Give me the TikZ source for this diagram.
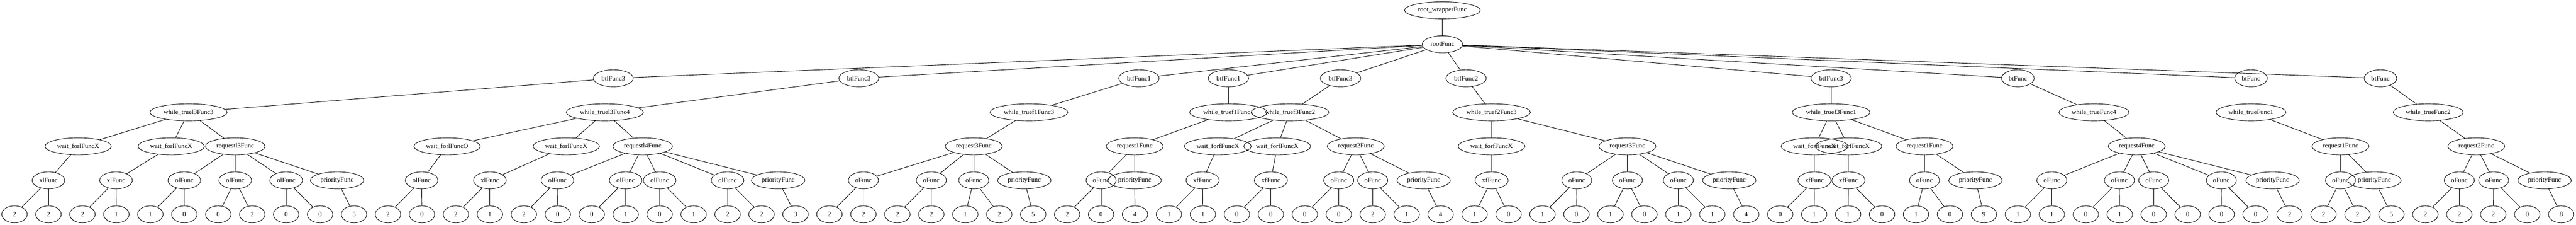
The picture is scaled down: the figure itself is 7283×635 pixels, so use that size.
\documentclass[tikz,border=0pt]{standalone}
\usepackage{fontspec}
\setmainfont{Liberation Serif}
\usepackage{tikz}
\usetikzlibrary{shapes.geometric}
\tikzstyle{fnode}=[draw,ellipse,line width=1pt,minimum width=54pt,minimum height=36pt,inner xsep=5pt,inner ysep=2pt,font=\fontsize{14}{16}\selectfont]
\tikzstyle{link}=[line width=1pt]

\begin{document}
\begin{tikzpicture}[x=0.75pt,y=0.75pt]
    \useasboundingbox (0,0) rectangle (7283,635);

    \node[fnode] (wrap) at (4078,606) {root\_wrapperFunc};
    \node[fnode] (root) at (4078,510) {rootFunc};

    \node[fnode] (b1) at (1734,414) {btlFunc3};
    \node[fnode] (b2) at (2428,414) {btlFunc3};
    \node[fnode] (b3) at (3220,414) {btfFunc1};
    \node[fnode] (b4) at (3473,414) {btfFunc1};
    \node[fnode] (b5) at (3790,414) {btfFunc3};
    \node[fnode] (b6) at (4145,414) {btfFunc2};
    \node[fnode] (b7) at (5177,414) {btfFunc3};
    \node[fnode] (b8) at (5705,414) {btFunc};
    \node[fnode] (b9) at (6364,414) {btFunc};
    \node[fnode] (b10) at (6730,414) {btFunc};

    \node[fnode] (w1) at (533,318) {while\_truel3Func3};
    \node[fnode] (w2) at (1710,318) {while\_truel3Func4};
    \node[fnode] (w3) at (2909,318) {while\_truef1Func3};
    \node[fnode] (w4) at (3473,318) {while\_truef1Func1};
    \node[fnode] (w5) at (3647,318) {while\_truef3Func2};
    \node[fnode] (w6) at (4217,318) {while\_truef2Func3};
    \node[fnode] (w7) at (5177,318) {while\_truef3Func1};
    \node[fnode] (w8) at (5920,318) {while\_trueFunc4};
    \node[fnode] (w9) at (6364,318) {while\_trueFunc1};
    \node[fnode] (w10) at (6865,318) {while\_trueFunc2};

    \node[fnode] (q1) at (221,222) {wait\_forlFuncX};
    \node[fnode] (q2) at (484,222) {wait\_forlFuncX};
    \node[fnode] (q3) at (665,222) {requestl3Func};
    \node[fnode] (q4) at (1264,222) {wait\_forlFuncO};
    \node[fnode] (q5) at (1601,222) {wait\_forlFuncX};
    \node[fnode] (q6) at (1817,222) {requestl4Func};
    \node[fnode] (q7) at (2753,222) {request3Func};
    \node[fnode] (q8) at (3208,222) {request1Func};
    \node[fnode] (q9) at (3443,222) {wait\_forfFuncX};
    \node[fnode] (q10) at (3611,222) {wait\_forfFuncX};
    \node[fnode] (q11) at (3833,222) {request2Func};
    \node[fnode] (q12) at (4217,222) {wait\_forfFuncX};
    \node[fnode] (q13) at (4601,222) {request3Func};
    \node[fnode] (q14) at (5130,222) {wait\_forfFuncX};
    \node[fnode] (q15) at (5226,222) {wait\_forfFuncX};
    \node[fnode] (q16) at (5441,222) {request1Func};
    \node[fnode] (q17) at (6041,222) {request4Func};
    \node[fnode] (q18) at (6617,222) {request1Func};
    \node[fnode] (q19) at (7001,222) {request2Func};

    \node[fnode] (f1) at (137,126) {xlFunc};
    \node[fnode] (f2) at (328,126) {xlFunc};
    \node[fnode] (f3) at (521,126) {olFunc};
    \node[fnode] (f4) at (665,126) {olFunc};
    \node[fnode] (f5) at (809,126) {olFunc};
    \node[fnode] (f6) at (953,126) {priorityFunc};
    \node[fnode] (f7) at (1192,126) {olFunc};
    \node[fnode] (f8) at (1385,126) {xlFunc};
    \node[fnode] (f9) at (1576,126) {olFunc};
    \node[fnode] (f10) at (1769,126) {olFunc};
    \node[fnode] (f11) at (1865,126) {olFunc};
    \node[fnode] (f12) at (2057,126) {olFunc};
    \node[fnode] (f13) at (2200,126) {priorityFunc};
    \node[fnode] (f14) at (2441,126) {oFunc};
    \node[fnode] (f15) at (2633,126) {oFunc};
    \node[fnode] (f16) at (2753,126) {oFunc};
    \node[fnode] (f17) at (2896,126) {priorityFunc};
    \node[fnode] (f18) at (3113,126) {oFunc};
    \node[fnode] (f19) at (3208,126) {priorityFunc};
    \node[fnode] (f20) at (3400,126) {xfFunc};
    \node[fnode] (f21) at (3593,126) {xfFunc};
    \node[fnode] (f22) at (3785,126) {oFunc};
    \node[fnode] (f23) at (3881,126) {oFunc};
    \node[fnode] (f24) at (4025,126) {priorityFunc};
    \node[fnode] (f25) at (4217,126) {xfFunc};
    \node[fnode] (f26) at (4458,126) {oFunc};
    \node[fnode] (f27) at (4601,126) {oFunc};
    \node[fnode] (f28) at (4745,126) {oFunc};
    \node[fnode] (f29) at (4889,126) {priorityFunc};
    \node[fnode] (f30) at (5130,126) {xfFunc};
    \node[fnode] (f31) at (5226,126) {xfFunc};
    \node[fnode] (f32) at (5441,126) {oFunc};
    \node[fnode] (f33) at (5585,126) {priorityFunc};
    \node[fnode] (f34) at (5801,126) {oFunc};
    \node[fnode] (f35) at (5992,126) {oFunc};
    \node[fnode] (f36) at (6089,126) {oFunc};
    \node[fnode] (f37) at (6280,126) {oFunc};
    \node[fnode] (f38) at (6425,126) {priorityFunc};
    \node[fnode] (f39) at (6617,126) {oFunc};
    \node[fnode] (f40) at (6713,126) {priorityFunc};
    \node[fnode] (f41) at (6953,126) {oFunc};
    \node[fnode] (f42) at (7050,126) {oFunc};
    \node[fnode] (f43) at (7194,126) {priorityFunc};

    % leaves, one every 96 units
    \foreach \v [count=\i from 0] in {2,2,2,1,1,0,0,2,0,0,5,
        2,0,2,1,2,0,0,1,0,1,2,2,3, 2,2,2,2,1,2,5,2,0,4,
        1,1,0,0,0,0,2,1,4,1,0, 1,0,1,0,1,1,4,0,1,1,0,
        1,0,9,1,1,0,1,0,0,0,0, 2,2,2,5,2,2,2,0,8}
        \node[fnode] (l\i) at ({41+96*\i},30) {\v};

    \foreach \a/\b in {wrap/root, root/b1, root/b2, root/b3, root/b4, root/b5,
        root/b6, root/b7, root/b8, root/b9, root/b10,
        b1/w1, b2/w2, b3/w3, b4/w4, b5/w5, b6/w6, b7/w7, b8/w8, b9/w9, b10/w10,
        w1/q1, w1/q2, w1/q3, w2/q4, w2/q5, w2/q6, w3/q7, w4/q8,
        w5/q9, w5/q10, w5/q11, w6/q12, w6/q13, w7/q14, w7/q15, w7/q16,
        w8/q17, w9/q18, w10/q19,
        q1/f1, q2/f2, q3/f3, q3/f4, q3/f5, q3/f6, q4/f7, q5/f8,
        q6/f9, q6/f10, q6/f11, q6/f12, q6/f13, q7/f14, q7/f15, q7/f16, q7/f17,
        q8/f18, q8/f19, q9/f20, q10/f21, q11/f22, q11/f23, q11/f24, q12/f25,
        q13/f26, q13/f27, q13/f28, q13/f29, q14/f30, q15/f31, q16/f32, q16/f33,
        q17/f34, q17/f35, q17/f36, q17/f37, q17/f38, q18/f39, q18/f40,
        q19/f41, q19/f42, q19/f43}
        \draw[link] (\a) -- (\b);

    \foreach \a/\b in {f1/l0, f1/l1, f2/l2, f2/l3, f3/l4, f3/l5, f4/l6, f4/l7,
        f5/l8, f5/l9, f6/l10, f7/l11, f7/l12, f8/l13, f8/l14, f9/l15, f9/l16,
        f10/l17, f10/l18, f11/l19, f11/l20, f12/l21, f12/l22, f13/l23,
        f14/l24, f14/l25, f15/l26, f15/l27, f16/l28, f16/l29, f17/l30,
        f18/l31, f18/l32, f19/l33, f20/l34, f20/l35, f21/l36, f21/l37,
        f22/l38, f22/l39, f23/l40, f23/l41, f24/l42, f25/l43, f25/l44,
        f26/l45, f26/l46, f27/l47, f27/l48, f28/l49, f28/l50, f29/l51,
        f30/l52, f30/l53, f31/l54, f31/l55, f32/l56, f32/l57, f33/l58,
        f34/l59, f34/l60, f35/l61, f35/l62, f36/l63, f36/l64, f37/l65, f37/l66,
        f38/l67, f39/l68, f39/l69, f40/l70, f41/l71, f41/l72, f42/l73, f42/l74,
        f43/l75}
        \draw[link] (\a) -- (\b);

\end{tikzpicture}
\end{document}
